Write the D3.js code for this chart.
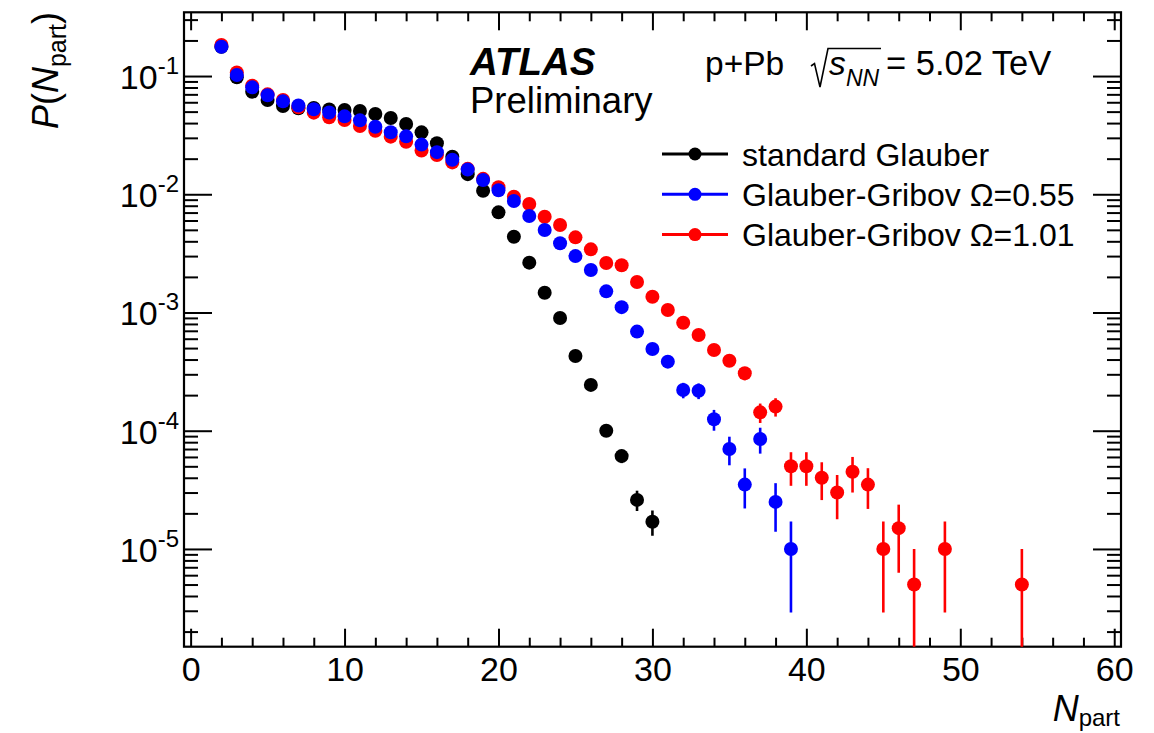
<!DOCTYPE html>
<html>
<head>
<meta charset="utf-8">
<script src="https://cdn.jsdelivr.net/npm/d3@7/dist/d3.min.js"></script>
<style>
  body { margin: 0; background: #fff; }
  svg { display: block; font-family: 'Liberation Sans', Arial, Helvetica, sans-serif; }
</style>
</head>
<body>
<svg id="chart" width="1154" height="733"></svg>
<script>
// values
const stdN = [2, 3, 4, 5, 6, 7, 8, 9, 10, 11, 12, 13, 14, 15, 16, 17, 18, 19, 20,
  21, 22, 23, 24, 25, 26, 27, 28, 29, 30];
const stdP = [0.177, 0.0975, 0.0737, 0.0627, 0.0557, 0.0533, 0.0536, 0.0521, 0.0516,
  0.0506, 0.0477, 0.0442, 0.0393, 0.0334, 0.0270, 0.0208, 0.0148, 0.0107, 0.00703,
  0.00437, 0.00264, 0.00147, 0.000897, 0.000428, 0.000244, 0.0001, 0.000061,
  0.000026, 0.000017];
const stdErr = [4.2e-4, 3.1e-4, 2.7e-4, 2.5e-4, 2.4e-4, 2.3e-4, 2.3e-4, 2.3e-4, 2.3e-4,
  2.2e-4, 2.2e-4, 2.1e-4, 2.0e-4, 1.8e-4, 1.6e-4, 1.4e-4, 1.2e-4, 1.0e-4, 8.4e-5,
  6.6e-5, 5.1e-5, 3.8e-5, 3.0e-5, 2.1e-5, 1.6e-5, 1.0e-5, 7.8e-6, 5.1e-6, 4.1e-6];

const gg55N = [2, 3, 4, 5, 6, 7, 8, 9, 10, 11, 12, 13, 14, 15, 16, 17, 18, 19, 20,
  21, 22, 23, 24, 25, 26, 27, 28, 29, 30, 31, 32, 33, 34, 35, 36, 37, 38, 39];
const gg55P = [0.177, 0.102, 0.0802, 0.0687, 0.0611, 0.0563, 0.0524, 0.0491, 0.0456,
  0.0422, 0.0372, 0.0335, 0.0309, 0.0263, 0.0227, 0.0196, 0.0162, 0.0132, 0.0108,
  0.00877, 0.00655, 0.00499, 0.00385, 0.0030, 0.00229, 0.00151, 0.00111, 0.000689,
  0.000491, 0.000384, 0.000221, 0.000218, 0.000125, 0.00007, 0.000035, 0.000085,
  0.000025, 0.00001];
const gg55Err = [9.4e-4, 7.1e-4, 6.3e-4, 5.9e-4, 5.5e-4, 5.3e-4, 5.1e-4, 5.0e-4, 4.8e-4,
  4.6e-4, 4.3e-4, 4.1e-4, 3.9e-4, 3.6e-4, 3.4e-4, 3.1e-4, 2.8e-4, 2.6e-4, 2.3e-4,
  2.1e-4, 1.8e-4, 1.6e-4, 1.39e-4, 1.22e-4, 1.07e-4, 8.7e-5, 7.4e-5, 5.9e-5,
  5.0e-5, 4.4e-5, 3.3e-5, 3.3e-5, 2.5e-5, 1.9e-5, 1.3e-5, 2.1e-5, 1.1e-5, 7.1e-6];

const gg101N = [2, 3, 4, 5, 6, 7, 8, 9, 10, 11, 12, 13, 14, 15, 16, 17, 18, 19, 20,
  21, 22, 23, 24, 25, 26, 27, 28, 29, 30, 31, 32, 33, 34, 35, 36, 37, 38, 39, 40,
  41, 42, 43, 44, 45, 46, 47, 49, 54];
const gg101P = [0.183, 0.107, 0.0828, 0.070, 0.0627, 0.0544, 0.049, 0.0448, 0.0425,
  0.0378, 0.0345, 0.0307, 0.0278, 0.0234, 0.0215, 0.0186, 0.0164, 0.0135, 0.01145,
  0.00953, 0.00827, 0.00646, 0.0055, 0.00432, 0.00342, 0.00262, 0.00251, 0.00181,
  0.00136, 0.00105, 0.00082, 0.000645, 0.000482, 0.000391, 0.000306, 0.000143,
  0.00016, 0.00005, 0.00005, 0.00004, 0.00003, 0.000045, 0.000035, 0.00001,
  0.000015, 0.000005, 0.00001, 0.000005];
const gg101Err = [9.6e-4, 7.3e-4, 6.4e-4, 5.9e-4, 5.6e-4, 5.2e-4, 4.95e-4, 4.73e-4, 4.61e-4,
  4.35e-4, 4.15e-4, 3.92e-4, 3.73e-4, 3.42e-4, 3.28e-4, 3.05e-4, 2.86e-4, 2.6e-4, 2.39e-4,
  2.18e-4, 2.03e-4, 1.8e-4, 1.66e-4, 1.47e-4, 1.31e-4, 1.14e-4, 1.12e-4, 9.5e-5,
  8.2e-5, 7.2e-5, 6.4e-5, 5.7e-5, 4.9e-5, 4.4e-5, 3.9e-5, 2.67e-5,
  2.83e-5, 1.58e-5, 1.58e-5, 1.41e-5, 1.22e-5, 1.5e-5, 1.32e-5, 7.1e-6,
  8.7e-6, 5e-6, 7.1e-6, 5e-6];

const seriesNames = ['standard Glauber', 'Glauber-Gribov \u03a9=0.55', 'Glauber-Gribov \u03a9=1.01'];
const seriesColors = ['#000000', '#0000ff', '#ff0000'];

const xMajor = [0, 10, 20, 30, 40, 50, 60];
const yMajor = [1e-1, 1e-2, 1e-3, 1e-4, 1e-5];
const yExp = ['-1', '-2', '-3', '-4', '-5'];

const frame = {left: 184, right: 1121, top: 12.3, bottom: 646.7};
const svg = d3.select('#chart');

const x = d3.scaleLinear().domain([-0.43, 60.44]).range([frame.left, frame.right]);
const y = d3.scaleLog().domain([1.49e-6, 0.346]).range([frame.bottom, frame.top]);

const xMinor = d3.range(0, 61, 2).filter(function(v) { return v % 10 !== 0; });
const yMinor = [];
[-6, -5, -4, -3, -2, -1].forEach(function(k) {
  for (let m = 2; m <= 9; m++) {
    const v = m * Math.pow(10, k);
    if (v > y.domain()[0] && v < y.domain()[1]) yMinor.push(v);
  }
});

function ticksOnly(g) {
  g.select('.domain').remove();
  g.selectAll('line').attr('stroke', '#000').attr('stroke-width', 2);
}

// x axis: bottom with labels, top ticks only
svg.append('g')
  .attr('transform', 'translate(0,' + frame.bottom + ')')
  .call(d3.axisBottom(x).tickValues(xMajor).tickSizeInner(-18).tickSizeOuter(0)
    .tickPadding(10).tickFormat(d3.format('d')))
  .call(ticksOnly)
  .call(function(g) {
    g.selectAll('text').attr('font-size', 34).attr('fill', '#000')
      .attr('font-family', "'Liberation Sans', Arial, sans-serif");
  });
svg.append('g')
  .attr('transform', 'translate(0,' + frame.bottom + ')')
  .call(d3.axisBottom(x).tickValues(xMinor).tickSizeInner(-9).tickSizeOuter(0).tickFormat(''))
  .call(ticksOnly);
svg.append('g')
  .attr('transform', 'translate(0,' + frame.top + ')')
  .call(d3.axisTop(x).tickValues(xMajor).tickSizeInner(-18).tickSizeOuter(0).tickFormat(''))
  .call(ticksOnly);
svg.append('g')
  .attr('transform', 'translate(0,' + frame.top + ')')
  .call(d3.axisTop(x).tickValues(xMinor).tickSizeInner(-9).tickSizeOuter(0).tickFormat(''))
  .call(ticksOnly);

// y axis: left with 10^n labels, right ticks only
svg.append('g')
  .attr('transform', 'translate(' + frame.left + ',0)')
  .call(d3.axisLeft(y).tickValues(yMajor).tickSizeInner(-28).tickSizeOuter(0).tickFormat(''))
  .call(ticksOnly);
svg.append('g')
  .attr('transform', 'translate(' + frame.left + ',0)')
  .call(d3.axisLeft(y).tickValues(yMinor).tickSizeInner(-14).tickSizeOuter(0).tickFormat(''))
  .call(ticksOnly);
svg.append('g')
  .attr('transform', 'translate(' + frame.right + ',0)')
  .call(d3.axisRight(y).tickValues(yMajor).tickSizeInner(-28).tickSizeOuter(0).tickFormat(''))
  .call(ticksOnly);
svg.append('g')
  .attr('transform', 'translate(' + frame.right + ',0)')
  .call(d3.axisRight(y).tickValues(yMinor).tickSizeInner(-14).tickSizeOuter(0).tickFormat(''))
  .call(ticksOnly);

const yLabel = svg.append('g').selectAll('text')
  .data(yMajor)
  .enter()
  .append('text')
  .attr('x', 179)
  .attr('y', function(d) { return y(d) + 13; })
  .attr('text-anchor', 'end')
  .attr('font-size', 34);
yLabel.append('tspan').text('10');
yLabel.append('tspan')
  .attr('dy', -15)
  .attr('font-size', 24)
  .text(function(d, i) { return yExp[i]; });

svg.append('rect')
  .attr('x', frame.left)
  .attr('y', frame.top)
  .attr('width', frame.right - frame.left)
  .attr('height', frame.bottom - frame.top)
  .attr('fill', 'none')
  .attr('stroke', '#000')
  .attr('stroke-width', 2.2);

// data points with vertical error bars
svg.append('clipPath').attr('id', 'plotclip')
  .append('rect')
  .attr('x', frame.left).attr('y', frame.top)
  .attr('width', frame.right - frame.left).attr('height', frame.bottom - frame.top);

const series = [
  {n: stdN, p: stdP, err: stdErr, color: seriesColors[0]},
  {n: gg101N, p: gg101P, err: gg101Err, color: seriesColors[2]},
  {n: gg55N, p: gg55P, err: gg55Err, color: seriesColors[1]}
];

const plot = svg.append('g').attr('clip-path', 'url(#plotclip)');
series.forEach(function(s) {
  const pts = s.n.map(function(n, i) { return {n: n, p: s.p[i], e: s.err[i]}; });
  const g = plot.append('g');
  g.selectAll('line')
    .data(pts)
    .enter()
    .append('line')
    .attr('x1', function(d) { return x(d.n); })
    .attr('x2', function(d) { return x(d.n); })
    .attr('y1', function(d) { return y(d.p + d.e); })
    .attr('y2', function(d) {
      const lo = d.p - d.e;
      return lo > y.domain()[0] ? y(lo) : frame.bottom + 5;
    })
    .attr('stroke', s.color)
    .attr('stroke-width', 2.6);
  g.selectAll('circle')
    .data(pts)
    .enter()
    .append('circle')
    .attr('cx', function(d) { return x(d.n); })
    .attr('cy', function(d) { return y(d.p); })
    .attr('r', 7)
    .attr('fill', s.color);
});

// legend
const legend = svg.append('g').selectAll('g')
  .data(seriesNames)
  .enter()
  .append('g')
  .attr('transform', function(d, i) { return 'translate(0,' + (154 + i * 40.3) + ')'; });
legend.append('line')
  .attr('x1', 662).attr('x2', 728)
  .attr('stroke', function(d, i) { return seriesColors[i]; })
  .attr('stroke-width', 3);
legend.append('circle')
  .attr('cx', 695)
  .attr('r', 6.5)
  .attr('fill', function(d, i) { return seriesColors[i]; });
legend.append('text')
  .attr('x', 742)
  .attr('y', 11.5)
  .attr('font-size', 32)
  .text(function(d) { return d; });

// ATLAS label
svg.append('text')
  .attr('x', 470).attr('y', 75)
  .attr('font-size', 38.5)
  .attr('font-weight', 'bold')
  .attr('font-style', 'italic')
  .text('ATLAS');
svg.append('text')
  .attr('x', 470).attr('y', 113)
  .attr('font-size', 36.5)
  .text('Preliminary');

// p+Pb sqrt(s_NN) = 5.02 TeV
svg.append('text')
  .attr('x', 705).attr('y', 75.4)
  .attr('font-size', 33.5)
  .text('p+Pb');
svg.append('path')
  .attr('d', 'M 811 66 L 814.5 63.5 L 820 87 L 828 48.5 L 881 48.5')
  .attr('fill', 'none')
  .attr('stroke', '#000')
  .attr('stroke-width', 1.6);
svg.append('text')
  .attr('x', 829).attr('y', 75.4)
  .attr('font-size', 33.5)
  .attr('font-style', 'italic')
  .text('s');
svg.append('text')
  .attr('x', 846).attr('y', 86)
  .attr('font-size', 23)
  .attr('font-style', 'italic')
  .text('NN');
svg.append('text')
  .attr('x', 886).attr('y', 75.4)
  .attr('font-size', 34.5)
  .text('= 5.02 TeV');

// axis titles
const yTitle = svg.append('text')
  .attr('transform', 'translate(58,12) rotate(-90)')
  .attr('text-anchor', 'end')
  .attr('font-size', 36);
yTitle.append('tspan').attr('font-style', 'italic').text('P');
yTitle.append('tspan').text('(');
yTitle.append('tspan').attr('font-style', 'italic').text('N');
yTitle.append('tspan').attr('font-size', 25).attr('dy', 8).text('part');
yTitle.append('tspan').attr('dy', -8).text(')');

const xTitle = svg.append('text')
  .attr('x', 1120).attr('y', 721)
  .attr('text-anchor', 'end')
  .attr('font-size', 36);
xTitle.append('tspan').attr('font-style', 'italic').text('N');
xTitle.append('tspan').attr('font-size', 24).attr('dy', 5).text('part');
</script>
</body>
</html>
